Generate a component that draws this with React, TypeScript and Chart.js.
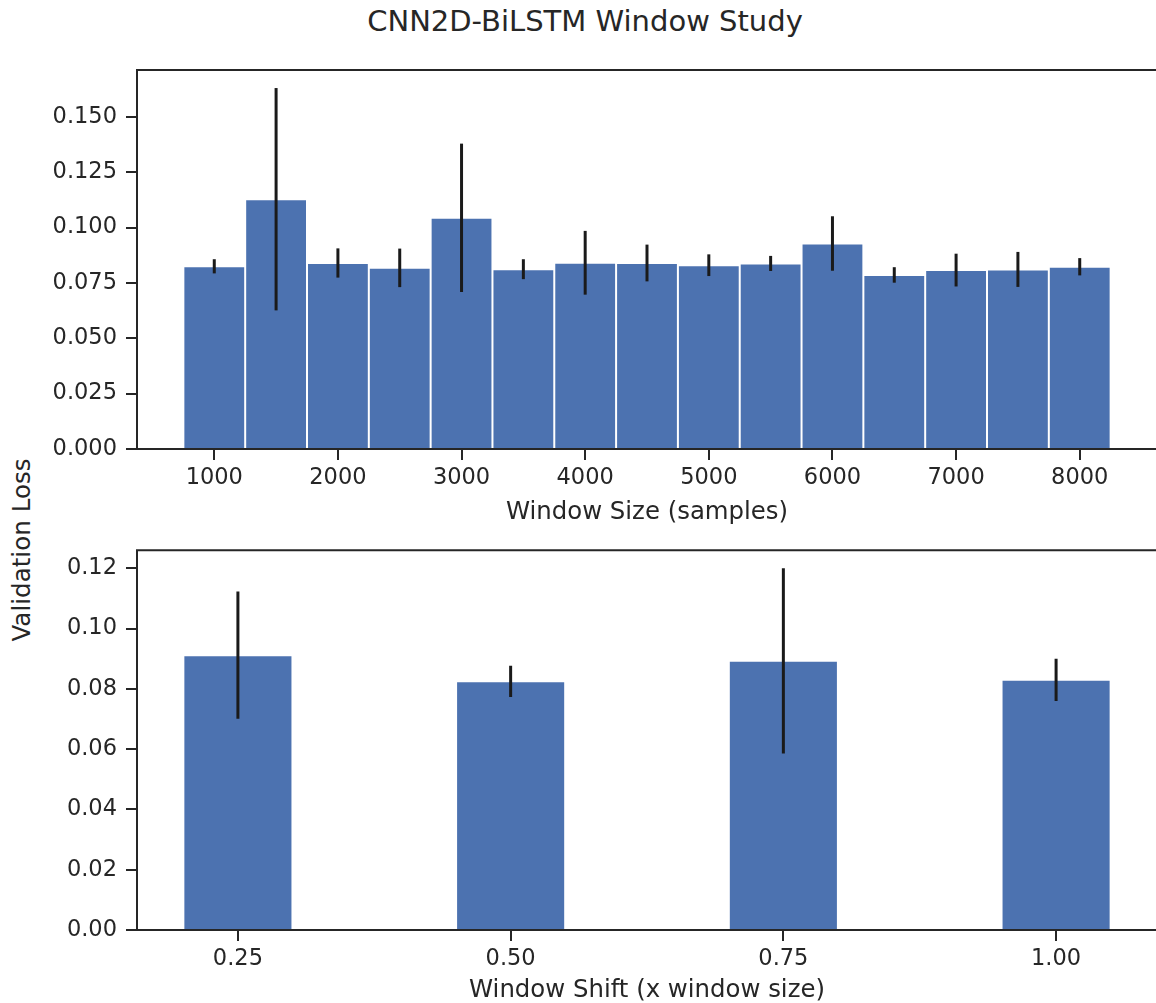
import React, { useEffect, useRef } from "react";
import { Chart, registerables } from "chart.js";

Chart.register(...registerables);

// ---------- data ----------
const windowSizes = [1000, 1500, 2000, 2500, 3000, 3500, 4000, 4500, 5000, 5500, 6000, 6500, 7000, 7500, 8000];
const windowLossMean = [0.0825, 0.1128, 0.084, 0.0818, 0.1044, 0.0812, 0.0841, 0.084, 0.083, 0.0838, 0.0928, 0.0786, 0.0808, 0.0811, 0.0823];
const windowLossStd = [0.0032, 0.0502, 0.0066, 0.0087, 0.0335, 0.0045, 0.0144, 0.0083, 0.0049, 0.0034, 0.0123, 0.0035, 0.0074, 0.0079, 0.0039];

const windowShifts = [0.25, 0.5, 0.75, 1.0];
const shiftLossMean = [0.0912, 0.0825, 0.0893, 0.083];
const shiftLossStd = [0.0211, 0.0052, 0.0307, 0.007];

const topXTicks = [1000, 2000, 3000, 4000, 5000, 6000, 7000, 8000];
const topYTicks = [0, 0.025, 0.05, 0.075, 0.1, 0.125, 0.15];
const bottomXTicks = [0.25, 0.5, 0.75, 1.0];
const bottomYTicks = [0, 0.02, 0.04, 0.06, 0.08, 0.1, 0.12];

const TITLE = "CNN2D-BiLSTM Window Study";
const Y_LABEL = "Validation Loss";
const TOP_X_LABEL = "Window Size (samples)";
const BOTTOM_X_LABEL = "Window Shift (x window size)";

// ---------- styles ----------
const FONT = "'DejaVu Sans', 'Noto Sans', sans-serif";
const INK = "#262626";
const BAR = "#4C72B0";
const ERR = "#1a1a1a";

const spinePlugin = {
  id: "spines",
  afterDatasetsDraw(chart: any) {
    const { ctx, chartArea: a } = chart;
    ctx.save();
    ctx.strokeStyle = INK;
    ctx.lineWidth = 2;
    ctx.strokeRect(a.left, a.top, a.right - a.left, a.bottom - a.top);
    ctx.restore();
  },
};

type PanelProps = {
  xs: number[];
  mean: number[];
  std: number[];
  xTicks: number[];
  yTicks: number[];
  xMin: number;
  xMax: number;
  xFmt: (v: number) => string;
  yFmt: (v: number) => string;
  xLabel: string;
  barPct: number;
  width: number;
  height: number;
  padTop: number;
  xAxisHeight: number;
};

function BarPanel(p: PanelProps) {
  const ref = useRef<HTMLCanvasElement | null>(null);
  useEffect(() => {
    if (!ref.current) return;
    const yMax = Math.max(...p.mean.map((m, i) => m + p.std[i])) * 1.05;
    const tickFont = { family: FONT, size: 22.5, lineHeight: 1 };
    const gridCommon = {
      display: true,
      offset: false,
      drawOnChartArea: false,
      drawTicks: true,
      tickLength: 11,
      tickWidth: 2,
      tickColor: INK,
      color: INK,
      lineWidth: 2,
    };
    const chart = new Chart(ref.current, {
      type: "bar",
      data: {
        datasets: [
          {
            label: "err",
            data: p.xs.map((x, i) => ({ x, y: [p.mean[i] - p.std[i], p.mean[i] + p.std[i]] })) as any,
            backgroundColor: ERR,
            borderWidth: 0,
            barThickness: 3,
            grouped: false,
            order: 0,
            inflateAmount: 0,
          } as any,
          {
            label: "loss",
            data: p.xs.map((x, i) => ({ x, y: p.mean[i] })) as any,
            backgroundColor: BAR,
            borderColor: "#ffffff",
            borderWidth: 1,
            categoryPercentage: 1,
            barPercentage: p.barPct,
            grouped: false,
            order: 1,
            inflateAmount: 0,
          } as any,
        ],
      },
      options: {
        animation: false,
        responsive: false,
        events: [],
        layout: { padding: { top: p.padTop, right: 3, bottom: 0, left: 0 } },
        plugins: {
          legend: { display: false },
          tooltip: { enabled: false },
          title: { display: false },
        },
        scales: {
          x: {
            type: "linear",
            min: p.xMin,
            max: p.xMax,
            offset: false,
            grid: gridCommon as any,
            border: { display: false },
            ticks: {
              color: INK,
              font: tickFont,
              padding: 7,
              maxRotation: 0,
              autoSkip: false,
              includeBounds: false,
              callback: (v: any) => p.xFmt(Number(v)),
            },
            title: {
              display: true,
              text: p.xLabel,
              color: INK,
              font: { family: FONT, size: 24.4, lineHeight: 1 },
              padding: { top: 0, bottom: 0 },
            },
            afterBuildTicks: (s: any) => {
              s.ticks = p.xTicks.map((v) => ({ value: v }));
            },
            afterFit: (s: any) => {
              s.height = p.xAxisHeight;
            },
          } as any,
          y: {
            type: "linear",
            min: 0,
            max: yMax,
            grid: gridCommon as any,
            border: { display: false },
            ticks: {
              color: INK,
              font: tickFont,
              padding: 9,
              includeBounds: false,
              callback: (v: any) => p.yFmt(Number(v)),
            },
            afterBuildTicks: (s: any) => {
              s.ticks = p.yTicks.map((v) => ({ value: v }));
            },
            afterFit: (s: any) => {
              s.width = 137;
            },
          } as any,
        },
      },
      plugins: [spinePlugin],
    } as any);
    return () => chart.destroy();
  }, []);
  return (
    <canvas
      ref={ref}
      width={p.width}
      height={p.height}
      style={{ display: "block", width: p.width, height: p.height }}
    />
  );
}

export default function App() {
  return (
    <div
      style={{
        position: "absolute",
        left: 0,
        top: 0,
        width: 1156,
        height: 1003,
        overflow: "hidden",
        background: "#ffffff",
        fontFamily: FONT,
        color: INK,
      }}
    >
      <div
        style={{
          position: "absolute",
          left: 585,
          top: 7,
          transform: "translateX(-50%)",
          fontSize: 29,
          lineHeight: "29px",
          whiteSpace: "nowrap",
        }}
      >
        {TITLE}
      </div>
      <div
        style={{
          position: "absolute",
          left: 22,
          top: 550,
          transform: "translate(-50%, -50%) rotate(-90deg)",
          fontSize: 24.6,
          lineHeight: "24px",
          whiteSpace: "nowrap",
        }}
      >
        {Y_LABEL}
      </div>
      <div style={{ position: "absolute", left: 0, top: 0 }}>
        <BarPanel
          xs={windowSizes}
          mean={windowLossMean}
          std={windowLossStd}
          xTicks={topXTicks}
          yTicks={topYTicks}
          xMin={375}
          xMax={8625}
          xFmt={(v) => String(Math.round(v))}
          yFmt={(v) => v.toFixed(3)}
          xLabel={TOP_X_LABEL}
          barPct={1}
          width={1160}
          height={525}
          padTop={70}
          xAxisHeight={76}
        />
      </div>
      <div style={{ position: "absolute", left: 0, top: 530 }}>
        <BarPanel
          xs={windowShifts}
          mean={shiftLossMean}
          std={shiftLossStd}
          xTicks={bottomXTicks}
          yTicks={bottomYTicks}
          xMin={0.1575}
          xMax={1.0925}
          xFmt={(v) => v.toFixed(2)}
          yFmt={(v) => v.toFixed(2)}
          xLabel={BOTTOM_X_LABEL}
          barPct={0.4}
          width={1160}
          height={473}
          padTop={20}
          xAxisHeight={73}
        />
      </div>
    </div>
  );
}
